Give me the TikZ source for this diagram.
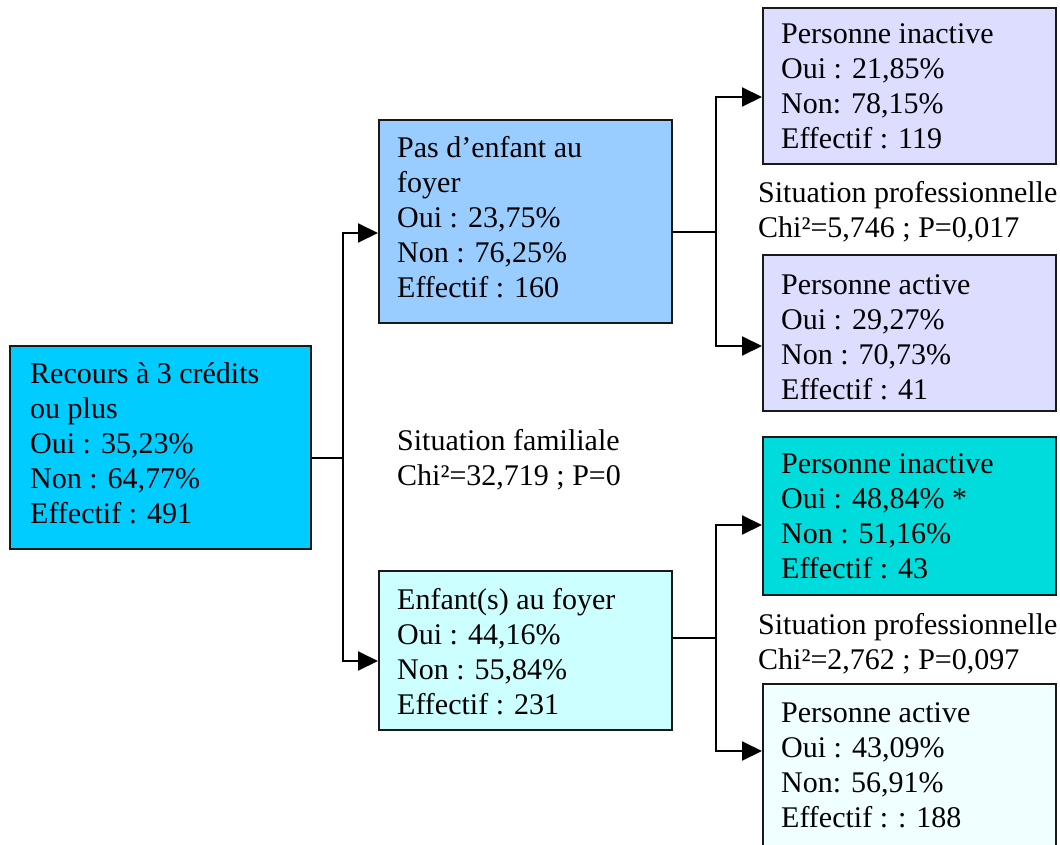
\documentclass[tikz,border=0pt]{standalone}
\usepackage{fontspec}
\setmainfont{Liberation Serif}
\usetikzlibrary{arrows.meta,calc}
\definecolor{cRoot}{HTML}{00CCFF}
\definecolor{cPas}{HTML}{99CCFF}
\definecolor{cEnf}{HTML}{CCFFFF}
\definecolor{cLav}{HTML}{DDDDFF}
\definecolor{cTeal}{HTML}{00DCDC}
\definecolor{cPale}{HTML}{F0FFFF}
\tikzset{
  box/.style={draw=black!90, line width=1.8pt, anchor=north west, inner sep=0pt},
  txt/.style={anchor=north west, inner sep=0pt, align=left, font=\fontsize{30}{35}\selectfont},
  conn/.style={line width=2pt, draw=black},
  arr/.style={conn, -{Triangle[length=20pt,width=19pt]}},
}
\newcommand\fl{\rule{0pt}{24pt}}
\begin{document}
\begin{tikzpicture}[x=1pt,y=-1pt]
\useasboundingbox (0,0) rectangle (1060,845);
% boxes
\node[box, fill=cRoot, minimum width=301pt, minimum height=203pt] (root) at (9,345) {};
\node[box, fill=cPas,  minimum width=293pt, minimum height=203pt] (pas)  at (378,119) {};
\node[box, fill=cEnf,  minimum width=293pt, minimum height=159pt] (enf)  at (378,570) {};
\node[box, fill=cLav,  minimum width=293pt, minimum height=156pt] (ti)   at (762,7) {};
\node[box, fill=cLav,  minimum width=293pt, minimum height=156pt] (ta)   at (762,254) {};
\node[box, fill=cTeal, minimum width=293pt, minimum height=158pt] (bi)   at (762,436) {};
\node[box, fill=cPale, minimum width=293pt, minimum height=167pt] (ba)   at (762,683) {};
% texts
\node[txt] (troot) at (30,359) {\fl Recours à 3 crédits\\ou plus\\Oui : 35,23\%\\Non : 64,77\%\\Effectif : 491};
\node[txt] (tpas) at (397,133) {\fl Pas d’enfant au\\foyer\\Oui : 23,75\%\\Non : 76,25\%\\Effectif : 160};
\node[txt] (tenf) at (397,585) {\fl Enfant(s) au foyer\\Oui : 44,16\%\\Non : 55,84\%\\Effectif : 231};
\node[txt] (tti) at (781,19) {\fl Personne inactive\\Oui : 21,85\%\\Non: 78,15\%\\Effectif : 119};
\node[txt] (tta) at (781,270) {\fl Personne active\\Oui : 29,27\%\\Non : 70,73\%\\Effectif : 41};
\node[txt] (tbi) at (781,449) {\fl Personne inactive\\Oui : 48,84\% *\\Non : 51,16\%\\Effectif : 43};
\node[txt] (tba) at (781,698) {\fl Personne active\\Oui : 43,09\%\\Non: 56,91\%\\Effectif : : 188};
% labels
\node[txt] (lfam) at (397,426) {\fl Situation familiale\\Chi²=32,719 ; P=0};
\node[txt] (lpro1) at (758,178) {\fl Situation professionnelle\\Chi²=5,746 ; P=0,017};
\node[txt] (lpro2) at (758,610) {\fl Situation professionnelle\\Chi²=2,762 ; P=0,097};
% connector coordinates
\coordinate (r0) at ($(root.north east)+(0,113)$);
\coordinate (j1) at (343,458);
\coordinate (pasin) at ($(pas.north west)+(0,114)$);
\coordinate (enfin) at ($(enf.north west)+(0,91)$);
\coordinate (p0) at ($(pas.north east)+(0,113)$);
\coordinate (j2) at (716,232);
\coordinate (tiin) at ($(ti.north west)+(0,90)$);
\coordinate (tain) at ($(ta.north west)+(0,92)$);
\coordinate (e0) at ($(enf.north east)+(0,68)$);
\coordinate (j3) at (716,638);
\coordinate (biin) at ($(bi.north west)+(0,89)$);
\coordinate (bain) at ($(ba.north west)+(0,68)$);
% connectors
\draw[conn] (r0) -- (j1);
\draw[arr] (j1) |- (pasin);
\draw[arr] (j1) |- (enfin);
\draw[conn] (p0) -- (j2);
\draw[arr] (j2) |- (tiin);
\draw[arr] (j2) |- (tain);
\draw[conn] (e0) -- (j3);
\draw[arr] (j3) |- (biin);
\draw[arr] (j3) |- (bain);
\end{tikzpicture}
\end{document}
